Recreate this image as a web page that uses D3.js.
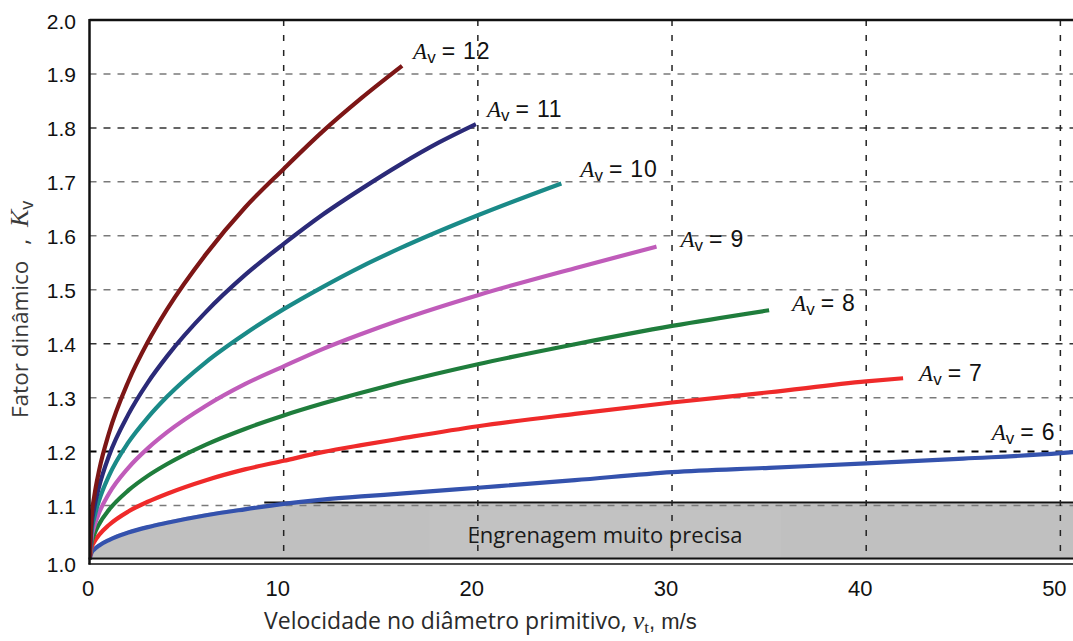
<!DOCTYPE html>
<html>
<head>
<meta charset="utf-8">
<script src="https://cdn.jsdelivr.net/npm/d3@7"></script>
<style>
  body { margin: 0; background: #fff; }
  svg { display: block; }
</style>
</head>
<body>
<div id="chart"></div>
<script>
// velocity (m/s) and Kv, one pair of arrays per Av
const av12V = [0, 0.1, 0.25, 0.5, 1, 2, 3, 4, 6, 8, 10, 12, 14, 16.1];
const av12K = [1.0, 1.075, 1.118, 1.166, 1.234, 1.330, 1.403, 1.464, 1.566, 1.652, 1.724, 1.793, 1.855, 1.915];

const av11V = [0, 0.1, 0.25, 0.5, 1, 2, 3, 4, 6, 8, 10, 12, 14, 16, 18, 19.9];
const av11K = [1.0, 1.061, 1.097, 1.136, 1.192, 1.269, 1.328, 1.377, 1.459, 1.527, 1.585, 1.639, 1.687, 1.732, 1.773, 1.807];

const av10V = [0, 0.1, 0.25, 0.5, 1, 2, 3, 4, 6, 8, 10, 12, 14, 16, 20, 24.3];
const av10K = [1.0, 1.050, 1.078, 1.110, 1.155, 1.217, 1.263, 1.302, 1.366, 1.418, 1.464, 1.505, 1.543, 1.577, 1.638, 1.697];

const av9V = [0, 0.1, 0.25, 0.5, 1, 2, 3, 4, 6, 8, 10, 12, 14, 16, 20, 25, 29.2];
const av9K = [1.0, 1.039, 1.062, 1.087, 1.122, 1.170, 1.206, 1.236, 1.285, 1.325, 1.358, 1.390, 1.418, 1.444, 1.490, 1.540, 1.580];

const av8V = [0, 0.1, 0.25, 0.5, 1, 2, 3, 4, 6, 8, 10, 12, 14, 16, 20, 25, 30, 35];
const av8K = [1.0, 1.030, 1.047, 1.066, 1.092, 1.128, 1.155, 1.177, 1.213, 1.242, 1.267, 1.289, 1.309, 1.328, 1.362, 1.399, 1.433, 1.462];

const av7V = [0, 0.1, 0.25, 0.5, 1, 2, 3, 4, 6, 8, 10, 12, 14, 16, 20, 25, 30, 35, 40, 41.9];
const av7K = [1.0, 1.021, 1.033, 1.046, 1.064, 1.089, 1.107, 1.122, 1.147, 1.167, 1.183, 1.199, 1.212, 1.224, 1.247, 1.270, 1.291, 1.310, 1.330, 1.336];

const av6V = [0, 0.1, 0.25, 0.5, 1, 2, 3, 4, 6, 8, 10, 12, 14, 16, 20, 25, 30, 35, 40, 45, 50, 51];
const av6K = [1.0, 1.012, 1.019, 1.026, 1.036, 1.050, 1.060, 1.068, 1.082, 1.093, 1.103, 1.111, 1.117, 1.122, 1.133, 1.147, 1.162, 1.170, 1.178, 1.187, 1.197, 1.200];

const avNames = ["12", "11", "10", "9", "8", "7", "6"];
const colors = ["#7d1616", "#2b2a78", "#1a8a88", "#c05cba", "#1f7d3c", "#ef2a2a", "#3452ad"];
const xTicks = [0, 10, 20, 30, 40, 50];
const yTicks = [1.0, 1.1, 1.2, 1.3, 1.4, 1.5, 1.6, 1.7, 1.8, 1.9, 2.0];
const regionLabel = "Engrenagem muito precisa";
const regionTop = 1.1;

const series = [
  [av12V, av12K], [av11V, av11K], [av10V, av10K], [av9V, av9K],
  [av8V, av8K], [av7V, av7K], [av6V, av6K]
].map(([v, k], i) => ({
  name: avNames[i],
  color: colors[i],
  points: v.map((d, j) => ({ v: d, k: k[j] }))
}));

const width = 1073, height = 641;
const pLeft = 89.5, pRight = 1073, pTop = 20, pBottom = 559.5;
const sans = "'Liberation Sans', Arial, sans-serif";
const serif = "'Liberation Serif', 'Times New Roman', serif";
const humanist = "'Open Sans', sans-serif";

const svg = d3.select("#chart")
  .append("svg")
  .attr("width", width)
  .attr("height", height);

const x = d3.scaleLinear().domain([0, 50.65]).range([pLeft, pRight]);
const y = d3.scaleLinear().domain([1.0, 2.0]).range([pBottom, pTop]);

svg.append("clipPath").attr("id", "plot")
  .append("rect")
  .attr("x", pLeft).attr("y", pTop)
  .attr("width", pRight - pLeft).attr("height", pBottom - pTop);

const plot = svg.append("g").attr("clip-path", "url(#plot)");

// grey "very precise" zone under Av = 6 capped at 1.1
const av6 = series[6].points;
const zone = d3.area()
  .x(d => x(d.v))
  .y0(y(1.0))
  .y1(d => y(Math.min(d.k, regionTop)) - 2)
  .curve(d3.curveMonotoneX);
plot.append("path")
  .datum(av6)
  .attr("d", zone)
  .attr("fill", "#c0c0c0");

plot.append("rect")
  .attr("x", x(17.5)).attr("y", y(regionTop) + 4)
  .attr("width", x(35.6) - x(17.5)).attr("height", y(1.0) - y(regionTop) - 6)
  .attr("fill", "#c2c2c2");

plot.append("line")
  .attr("x1", x(9)).attr("x2", pRight)
  .attr("y1", y(regionTop) - 3).attr("y2", y(regionTop) - 3)
  .attr("stroke", "#111").attr("stroke-width", 2);

// grid
const isDark = d => Math.abs(d - 1.8) < 1e-6 || Math.abs(d - 1.4) < 1e-6;
const isRef = d => Math.abs(d - 1.2) < 1e-6;
plot.append("g")
  .selectAll("line")
  .data(yTicks.filter(d => d > 1.0 && d < 2.0))
  .join("line")
  .attr("x1", pLeft).attr("x2", pRight)
  .attr("y1", d => y(d)).attr("y2", d => y(d))
  .attr("stroke", d => isRef(d) ? "#000" : (isDark(d) ? "#333" : "#7a7a7a"))
  .attr("stroke-width", d => isRef(d) ? 2 : 1.5)
  .attr("stroke-dasharray", "7,7");

plot.append("g")
  .selectAll("line")
  .data(xTicks.filter(d => d > 0))
  .join("line")
  .attr("x1", d => x(d)).attr("x2", d => x(d))
  .attr("y1", pTop).attr("y2", pBottom)
  .attr("stroke", "#222")
  .attr("stroke-width", 1.5)
  .attr("stroke-dasharray", "6,9");

// curves
const line = d3.line()
  .x(d => x(d.v))
  .y(d => y(d.k))
  .curve(d3.curveMonotoneX);

plot.selectAll(".curve")
  .data(series.slice().reverse())
  .join("path")
  .attr("class", "curve")
  .attr("d", d => line(d.points))
  .attr("fill", "none")
  .attr("stroke", d => d.color)
  .attr("stroke-width", 4.2)
  .attr("stroke-linecap", "butt");

// frame
svg.append("line")
  .attr("x1", pLeft).attr("x2", pRight).attr("y1", pTop).attr("y2", pTop)
  .attr("stroke", "#111").attr("stroke-width", 2.5);
svg.append("line")
  .attr("x1", pLeft).attr("x2", pLeft).attr("y1", pTop - 1).attr("y2", pBottom + 5)
  .attr("stroke", "#111").attr("stroke-width", 2.5);
svg.append("line")
  .attr("x1", pLeft - 1).attr("x2", pRight).attr("y1", pBottom - 1).attr("y2", pBottom - 1)
  .attr("stroke", "#111").attr("stroke-width", 2);
svg.append("line")
  .attr("x1", pLeft - 1).attr("x2", pRight).attr("y1", pBottom + 4.5).attr("y2", pBottom + 4.5)
  .attr("stroke", "#111").attr("stroke-width", 1.5);

// region text
svg.append("text")
  .attr("x", 605).attr("y", y(1.0) - 17)
  .attr("text-anchor", "middle")
  .attr("font-family", humanist)
  .attr("font-size", 22)
  .attr("fill", "#1a1a1a")
  .text(regionLabel);

// tick labels
svg.append("g")
  .selectAll("text")
  .data(yTicks)
  .join("text")
  .attr("x", 76)
  .attr("y", d => y(d) + (d === 1.0 ? 12.5 : 8.5))
  .attr("text-anchor", "end")
  .attr("font-family", sans)
  .attr("font-size", 21)
  .attr("fill", "#111")
  .text(d => d3.format(".1f")(d));

svg.append("g")
  .selectAll("text")
  .data(xTicks)
  .join("text")
  .attr("x", d => x(d) - (d ? 6 : 1.5))
  .attr("y", 596)
  .attr("text-anchor", "middle")
  .attr("font-family", sans)
  .attr("font-size", 22)
  .attr("fill", "#111")
  .text(d => d);

// curve labels, offset from each curve's last point
const labelOffsets = [[11, -7], [11, -7], [19, -6], [24, 0], [23, 1], [16, 3], [-88, -12]];

series.forEach((s, i) => {
  const end = s.points[s.points.length - 1];
  const t = svg.append("text")
    .attr("x", x(end.v) + labelOffsets[i][0])
    .attr("y", y(end.k) + labelOffsets[i][1])
    .attr("fill", "#111");
  t.append("tspan")
    .attr("font-family", serif)
    .attr("font-style", "italic")
    .attr("font-size", 23)
    .text("A");
  t.append("tspan")
    .attr("font-family", sans)
    .attr("font-size", 17)
    .attr("dy", 4)
    .text("v");
  t.append("tspan")
    .attr("font-family", sans)
    .attr("font-size", 23)
    .attr("dy", -4)
    .attr("dx", 6)
    .attr("letter-spacing", 0.8)
    .text("= " + s.name);
});

// axis titles
const xTitle = svg.append("text")
  .attr("x", 264).attr("y", 629)
  .attr("fill", "#2a2a2a");
xTitle.append("tspan")
  .attr("font-family", humanist)
  .attr("font-size", 23)
  .text("Velocidade no diâmetro primitivo,  ");
xTitle.append("tspan")
  .attr("font-family", serif)
  .attr("font-style", "italic")
  .attr("font-size", 26)
  .text("v");
xTitle.append("tspan")
  .attr("font-family", serif)
  .attr("font-size", 17)
  .attr("dy", 4)
  .text("t");
xTitle.append("tspan")
  .attr("font-family", sans)
  .attr("font-size", 22)
  .attr("dy", -4)
  .text(", m/s");

const yTitle = svg.append("text")
  .attr("transform", "translate(28,418) rotate(-90)")
  .attr("fill", "#3a3a3a");
yTitle.append("tspan")
  .attr("font-family", humanist)
  .attr("font-size", 22.5)
  .text("Fator dinâmico");
yTitle.append("tspan")
  .attr("font-family", humanist)
  .attr("font-size", 22.5)
  .attr("dx", 16)
  .text(", ");
yTitle.append("tspan")
  .attr("font-family", serif)
  .attr("font-style", "italic")
  .attr("font-size", 26)
  .attr("dx", 6)
  .text("K");
yTitle.append("tspan")
  .attr("font-family", sans)
  .attr("font-size", 18)
  .attr("dy", 5)
  .text("v");
</script>
</body>
</html>
